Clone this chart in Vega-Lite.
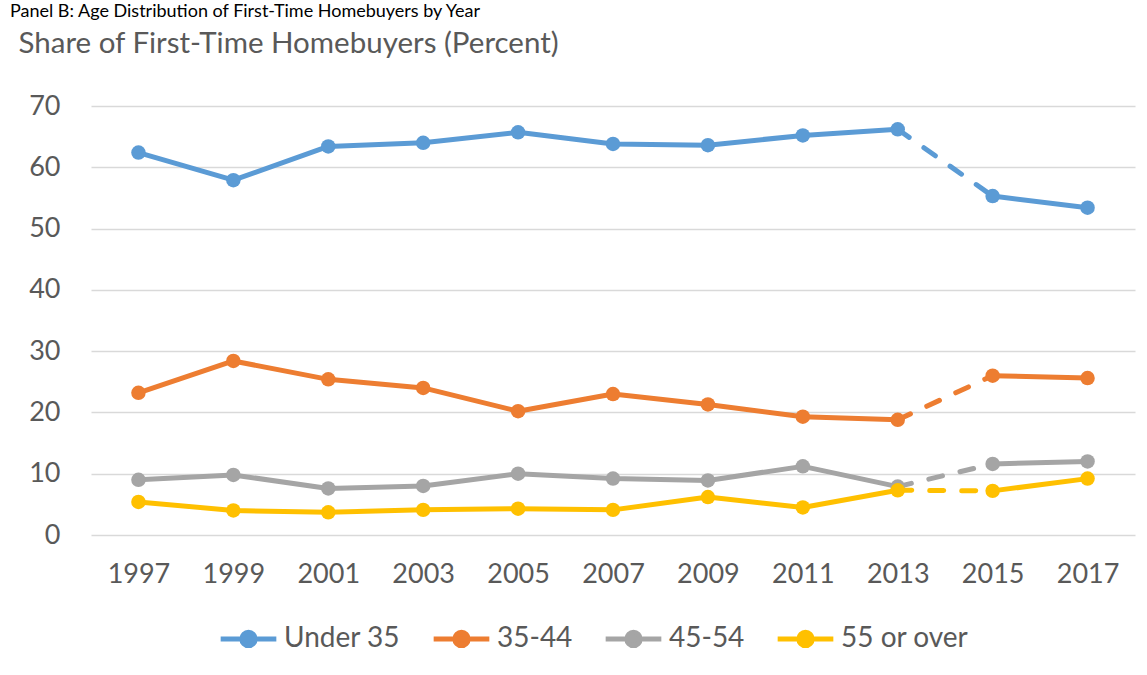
{
  "$schema": "https://vega.github.io/schema/vega-lite/v6.json",
  "width": 1044,
  "height": 429,
  "autosize": {"type": "none"},
  "padding": {"left": 91, "top": 106, "right": 12, "bottom": 140},
  "background": "white",
  "title": {
    "text": "Panel B: Age Distribution of First-Time Homebuyers by Year",
    "anchor": "start",
    "frame": "group",
    "font": "Lato",
    "fontSize": 18,
    "fontWeight": "normal",
    "color": "#000000",
    "baseline": "bottom",
    "dx": -81,
    "dy": 15,
    "offset": 4
  },
  "config": {
    "view": {"stroke": null},
    "font": "Lato",
    "axis": {
      "labelFont": "Lato",
      "labelFontSize": 27,
      "labelColor": "#595959",
      "gridColor": "#D9D9D9",
      "gridWidth": 1.5,
      "domain": false,
      "ticks": false
    },
    "legend": {
      "labelFont": "Lato",
      "labelFontSize": 28,
      "labelColor": "#595959"
    }
  },
  "data": {
    "values": [
      {"group": "Under 35", "year": "1997", "value": 62.4, "period": "a"},
      {"group": "Under 35", "year": "1999", "value": 57.9, "period": "a"},
      {"group": "Under 35", "year": "2001", "value": 63.4, "period": "a"},
      {"group": "Under 35", "year": "2003", "value": 64.0, "period": "a"},
      {"group": "Under 35", "year": "2005", "value": 65.7, "period": "a"},
      {"group": "Under 35", "year": "2007", "value": 63.8, "period": "a"},
      {"group": "Under 35", "year": "2009", "value": 63.6, "period": "a"},
      {"group": "Under 35", "year": "2011", "value": 65.2, "period": "a"},
      {"group": "Under 35", "year": "2013", "value": 66.2, "period": "a"},
      {"group": "Under 35", "year": "2015", "value": 55.3, "period": "b"},
      {"group": "Under 35", "year": "2017", "value": 53.4, "period": "b"},
      {"group": "35-44", "year": "1997", "value": 23.2, "period": "a"},
      {"group": "35-44", "year": "1999", "value": 28.4, "period": "a"},
      {"group": "35-44", "year": "2001", "value": 25.4, "period": "a"},
      {"group": "35-44", "year": "2003", "value": 24.0, "period": "a"},
      {"group": "35-44", "year": "2005", "value": 20.2, "period": "a"},
      {"group": "35-44", "year": "2007", "value": 23.0, "period": "a"},
      {"group": "35-44", "year": "2009", "value": 21.3, "period": "a"},
      {"group": "35-44", "year": "2011", "value": 19.3, "period": "a"},
      {"group": "35-44", "year": "2013", "value": 18.8, "period": "a"},
      {"group": "35-44", "year": "2015", "value": 26.0, "period": "b"},
      {"group": "35-44", "year": "2017", "value": 25.6, "period": "b"},
      {"group": "45-54", "year": "1997", "value": 9.0, "period": "a"},
      {"group": "45-54", "year": "1999", "value": 9.8, "period": "a"},
      {"group": "45-54", "year": "2001", "value": 7.6, "period": "a"},
      {"group": "45-54", "year": "2003", "value": 8.0, "period": "a"},
      {"group": "45-54", "year": "2005", "value": 10.0, "period": "a"},
      {"group": "45-54", "year": "2007", "value": 9.2, "period": "a"},
      {"group": "45-54", "year": "2009", "value": 8.9, "period": "a"},
      {"group": "45-54", "year": "2011", "value": 11.2, "period": "a"},
      {"group": "45-54", "year": "2013", "value": 7.9, "period": "a"},
      {"group": "45-54", "year": "2015", "value": 11.6, "period": "b"},
      {"group": "45-54", "year": "2017", "value": 12.0, "period": "b"},
      {"group": "55 or over", "year": "1997", "value": 5.4, "period": "a"},
      {"group": "55 or over", "year": "1999", "value": 4.0, "period": "a"},
      {"group": "55 or over", "year": "2001", "value": 3.7, "period": "a"},
      {"group": "55 or over", "year": "2003", "value": 4.1, "period": "a"},
      {"group": "55 or over", "year": "2005", "value": 4.3, "period": "a"},
      {"group": "55 or over", "year": "2007", "value": 4.1, "period": "a"},
      {"group": "55 or over", "year": "2009", "value": 6.2, "period": "a"},
      {"group": "55 or over", "year": "2011", "value": 4.5, "period": "a"},
      {"group": "55 or over", "year": "2013", "value": 7.3, "period": "a"},
      {"group": "55 or over", "year": "2015", "value": 7.2, "period": "b"},
      {"group": "55 or over", "year": "2017", "value": 9.2, "period": "b"}
    ]
  },
  "encoding": {
    "x": {
      "field": "year",
      "type": "ordinal",
      "scale": {"type": "point", "padding": 0.5},
      "axis": {"title": null, "labelAngle": 0, "labelPadding": 26, "grid": false}
    },
    "y": {
      "field": "value",
      "type": "quantitative",
      "scale": {"domain": [0, 70], "nice": false},
      "axis": {
        "values": [0, 10, 20, 30, 40, 50, 60, 70],
        "labelPadding": 31,
        "title": "Share of First-Time Homebuyers (Percent)",
        "titleFont": "Lato",
        "titleFontSize": 29.5,
        "titleFontWeight": "normal",
        "titleColor": "#595959",
        "titleAngle": 0,
        "titleAlign": "left",
        "titleBaseline": "middle",
        "titleX": -73,
        "titleY": -63
      }
    },
    "color": {
      "field": "group",
      "type": "nominal",
      "scale": {
        "domain": ["Under 35", "35-44", "45-54", "55 or over"],
        "range": ["#5B9BD5", "#ED7D31", "#A5A5A5", "#FFC000"]
      },
      "legend": {
        "title": null,
        "orient": "none",
        "legendX": 127,
        "legendY": 502,
        "direction": "horizontal",
        "symbolType": "M-1,0L1,0M0.24,0A0.24,0.24,0,1,1,-0.24,0A0.24,0.24,0,1,1,0.24,0Z",
        "symbolSize": 3100,
        "symbolStrokeWidth": 5,
        "labelOffset": 5,
        "columnPadding": 22,
        "encode": {
          "symbols": {
            "update": {
              "fill": {"scale": "color", "field": "value"},
              "stroke": {"scale": "color", "field": "value"},
              "fillOpacity": {"value": 1}
            }
          }
        }
      }
    }
  },
  "layer": [
    {
      "mark": {"type": "line", "strokeWidth": 5, "strokeDash": [14, 18], "strokeCap": "round"},
      "transform": [{"filter": {"field": "year", "oneOf": ["2013", "2015"]}}],
      "encoding": {}
    },
    {
      "mark": {"type": "line", "strokeWidth": 5, "strokeJoin": "round"},
      "encoding": {"detail": {"field": "period", "type": "nominal"}}
    },
    {
      "mark": {"type": "point", "filled": true, "size": 210, "opacity": 1},
      "encoding": {}
    }
  ]
}
